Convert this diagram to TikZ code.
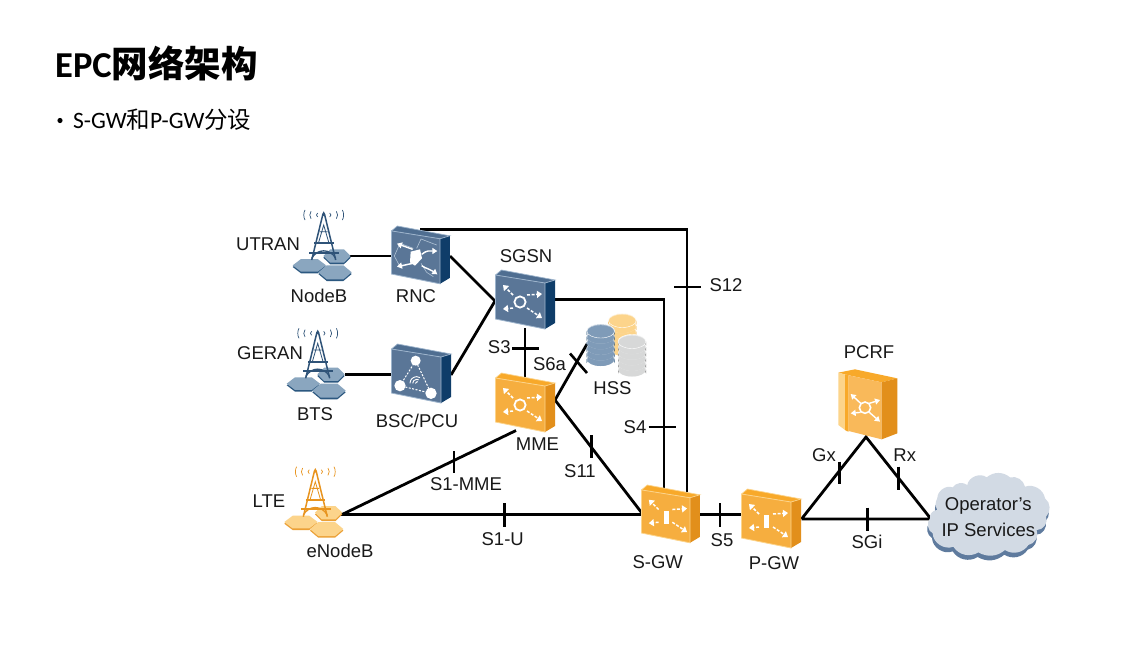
\documentclass[tikz,border=0pt]{standalone}
\usepackage{fontspec}
\setmainfont{Liberation Sans}
\newfontfamily\cjkf{Noto Sans CJK SC}
\newfontfamily\carl{Carlito}
\usetikzlibrary{arrows.meta}
\definecolor{bluF}{HTML}{5A7697}\definecolor{bluT}{HTML}{4F6E91}\definecolor{bluR}{HTML}{0F3D69}\definecolor{bluE}{HTML}{9DB4CC}
\definecolor{oraF}{HTML}{F6AE3F}\definecolor{oraT}{HTML}{F8A92A}\definecolor{oraR}{HTML}{E28F1B}\definecolor{oraE}{HTML}{FCD48B}
\definecolor{hxbF}{HTML}{8AA6BF}\definecolor{hxbE}{HTML}{2C5880}\definecolor{hxoF}{HTML}{FCD48B}\definecolor{hxoE}{HTML}{EBA036}
\definecolor{twb}{HTML}{2F5378}\definecolor{two}{HTML}{E8941F}
\definecolor{cloudF}{HTML}{D2DAE4}\definecolor{cloudS}{HTML}{5F7B9E}
\definecolor{pcrfF}{HTML}{F9B95A}
\definecolor{dkoT}{HTML}{FCD48B}\definecolor{dkoD}{HTML}{F0A830}
\definecolor{dkbT}{HTML}{7F9BB8}\definecolor{dkbD}{HTML}{1E4A73}
\definecolor{dkgT}{HTML}{D7D8D8}\definecolor{dkgD}{HTML}{8C8C8C}
\tikzset{
 link/.style={line width=2.8pt,black},
 tickmark/.style={line width=2.6pt,black},
 lab/.style={font=\fontsize{18.5}{20}\selectfont,inner sep=0pt,text=black!90},
 headarrow/.style={white,line width=1.5pt,dash pattern=on 3pt off 1.6pt,-{Triangle[length=5pt,width=7pt]}},
 solidarrow/.style={white,line width=1.4pt,-{Triangle[length=5pt,width=6pt]}},
 holder/.style={inner sep=0pt,minimum width=50pt,minimum height=50pt},
}
% box body: x y size-scale colour-prefix
\newcommand\boxbody[4]{%
 \begin{scope}[shift={(#1,#2)},scale=#3]
  \fill[#4T] (.5,5)--(6.5,0)--(60,10)--(50,13)--cycle;
  \fill[#4R] (50,13)--(60,10)--(60,53)--(50,59)--cycle;
  \fill[#4F,draw=#4E,line width=.8pt] (.5,5)--(50,13)--(50,59)--(.5,49)--cycle;
  \draw[#4E,line width=.7pt] (.5,5)--(6.5,0)--(60,10)--(50,13);
 \end{scope}}
% four-arrow icon
\newcommand\fourarrows[3]{%
 \begin{scope}[shift={(#1,#2)},scale=#3]
  \draw[headarrow] (18,25)--(8,15);
  \draw[headarrow] (32,25)--(47,24);
  \draw[headarrow] (18,38)--(8,39);
  \draw[headarrow] (32,38)--(47,48);
 \end{scope}}
\newcommand\ringicon[3]{%
 \begin{scope}[shift={(#1,#2)}]
  \draw[white,line width=1.8pt,fill=#3F] (25,32) circle[radius=5.6];
 \end{scope}}
\newcommand\baricon[2]{\fill[white] (#1+22.5,#2+25.5) rectangle (#1+27.5,#2+39);}
\newcommand\hexa[6]{%
 \fill[#6,shift={(#1,#2+5)},xscale=#3,yscale=#4] (-1,0)--(-.5,-1)--(.5,-1)--(1,0)--(.5,1)--(-.5,1)--cycle;
 \fill[#5,shift={(#1,#2)},xscale=#3,yscale=#4] (-1,0)--(-.5,-1)--(.5,-1)--(1,0)--(.5,1)--(-.5,1)--cycle;}
% tower: apex x y, hex fill, hex edge, tower colour
\newcommand\towericon[5]{%
 \begin{scope}[shift={(#1,#2)},scale=1/3]
  \hexa{40}{123}{41}{20}{#3}{#4}
  \hexa{-43}{151}{50}{19}{#3}{#4}
  \hexa{34}{172}{50}{21}{#3}{#4}
  \draw[#5,line width=1.5pt] (-36,135)--(-3,0)--(0,-6)--(3,0)--(36,135);
  \draw[#5,line width=.8pt] (-16,85)--(0,30)--(16,85) (-12,50)--(12,50);
  \draw[#5,line width=1.9pt] (-28,85)--(30,85);
  \draw[#5,line width=2.1pt] (-43,113)--(47,113);
  \draw[#5,line width=1.3pt] (-36,130) .. controls (-20,100) and (20,100) .. (36,130);
  \fill[#5] (0,-2) circle[radius=5];
  \foreach \sx in {-1,1}{
   \foreach \r/\h in {18/6,38/11,56/15}{
    \draw[#5,line width=.7pt] (\sx*\r,-\h) .. controls (\sx*\r+\sx*5,-\h/2) and (\sx*\r+\sx*5,\h/2) .. (\sx*\r,\h);}}
 \end{scope}}
% disk stack: centre x, top y, top colour, dark colour
\newcommand\diskstack[4]{%
 \foreach \k in {5,4,3,2,1,0}{
  \fill[#4] (#1-14,#2+7+\k*5.6) -- (#1-14,#2+11+\k*5.6) arc[start angle=180,end angle=360,x radius=14,y radius=6] -- (#1+14,#2+7+\k*5.6) -- cycle;
  \fill[#3!55!white] (#1,#2+7+\k*5.6) ellipse[x radius=14,y radius=7];
  \fill[#3] (#1,#2+7.6+\k*5.6) ellipse[x radius=13.4,y radius=6.4];}
 \draw[white,line width=.4pt] (#1,#2+7) ellipse[x radius=14,y radius=7];}
\begin{document}
\begin{tikzpicture}[x=1pt,y=-1pt]
\useasboundingbox (0,0) rectangle (1147,667);
\fill[white] (0,0) rectangle (1147,667);
% title
\node[anchor=west,inner sep=0pt,font=\fontsize{36.5}{40}\selectfont\bfseries] (title) at (55,63) {{\carl EPC}{\cjkf 网络架构}};
\fill[black] (60,120.5) circle[radius=2.6];
\node[anchor=west,inner sep=0pt,font=\fontsize{23.5}{26}\selectfont] (sub) at (73,120) {{\carl S-GW}{\cjkf 和}{\carl P-GW}{\cjkf 分设}};

% endpoints
\coordinate (nodebE) at (348,256);
\coordinate (rncW) at (392,256);
\coordinate (rncE) at (450,256);
\coordinate (rncT) at (420,229.5);
\coordinate (btsE) at (345,374.5);
\coordinate (bscW) at (392,374.5);
\coordinate (bscE) at (451,375);
\coordinate (sgsnW) at (495,301);
\coordinate (sgsnE) at (554,299.5);
\coordinate (sgsnS) at (525,328);
\coordinate (mmeN) at (525,379);
\coordinate (mmeE) at (555,400);
\coordinate (mmeS) at (516,430.5);
\coordinate (hssW) at (587,344);
\coordinate (enbE) at (342,514.5);
\coordinate (sgwW) at (643,514.5);
\coordinate (sgwE) at (699,514.5);
\coordinate (pgwW) at (743,514.5);
\coordinate (sgwA) at (664,491);
\coordinate (sgwB) at (687,493);
\coordinate (cr1) at (687,229.5);
\coordinate (cr2) at (664,299.5);
\coordinate (pgwE) at (801.5,519);
\coordinate (pcrfS) at (866,437);
\coordinate (cloudW) at (931,519);

% connectors
\draw[link] (nodebE)--(rncW);
\draw[link] (btsE)--(bscW);
\draw[link] (rncE)--(sgsnW)--(bscE);
\draw[link] (rncT)--(cr1)--(sgwB);
\draw[link] (sgsnE)--(cr2)--(sgwA);
\draw[link] (sgsnS)--(mmeN);
\draw[link] (hssW)--(mmeE)--(sgwW);
\draw[link] (mmeS)--(enbE)--(sgwW);
\draw[link] (sgwE)--(pgwW);
\draw[link] (pgwE)--(pcrfS)--(cloudW)--(pgwE);

% interface ticks
\foreach \n/\a/\b/\c/\d in {s3/512/348.5/539/348.5, s6a/570/353.5/587/373, s11/591.7/435/591.7/457.5,
  s4/648.5/427/676/427, s12/674/287/701/287, s1m/454/451/454/473, s1u/504.5/503/504.5/526.5,
  s5/720/503/720/526.5, sgi/867.3/507.5/867.3/531, gx/839.7/461.5/839.7/484, rx/898.3/466.5/898.3/490}{
  \coordinate (\n a) at (\a,\b);
  \coordinate (\n b) at (\c,\d);
  \draw[tickmark] (\n a)--(\n b);
}

% devices
\boxbody{391}{226}{.98}{blu}
\boxbody{391}{344}{1}{blu}
\boxbody{495}{270}{1}{blu}
\boxbody{495}{373}{1}{ora}
\boxbody{641}{485}{.98}{ora}
\boxbody{741}{489}{1}{ora}
\node[holder] (rnc) at (416,258) {};
\node[holder] (bsc) at (416,376) {};
\node[holder] (sgsn) at (520,302) {};
\node[holder] (mme) at (520,405) {};
\node[holder] (sgw) at (666,517) {};
\node[holder] (pgw) at (766,521) {};
\fourarrows{495}{270}{1}
\ringicon{495}{270}{blu}
\fourarrows{495}{373}{1}
\ringicon{495}{373}{ora}
\fourarrows{641}{485}{.98}
\baricon{641}{485}
\fourarrows{741}{489}{1}
\baricon{741}{489}
% RNC icon
\begin{scope}[shift={(220,195)},scale=1/3]
 \draw[line width=.6pt,bluE!80!white] (580,160)--(540,145)--(523,183)--(540,215)--(580,205);
 \draw[line width=.6pt,bluE!80!white] (590,160)--(603,132)--(650,150) (603,205)--(620,232)--(640,245);
 \draw[solidarrow] (578,163)--(531,146);
 \draw[solidarrow] (605,178) .. controls (620,165) and (630,168) .. (652,168);
 \draw[solidarrow] (578,205)--(531,215);
 \draw[solidarrow] (605,212) .. controls (620,222) and (630,222) .. (652,238);
 \fill[white] (572,170)--(600,163)--(606,190)--(585,212)--(570,202)--cycle;
\end{scope}
% BSC icon
\begin{scope}[shift={(220,195)},scale=1/3]
 \draw[white,line width=1pt,dash pattern=on 2pt off 1.5pt] (587,497)--(540,572)--(633,595)--cycle;
 \fill[white] (587,497) circle[radius=15];
 \fill[white] (540,572) circle[radius=17];
 \fill[white] (633,595) circle[radius=17];
 \draw[white,line width=.9pt] (570,565) arc[start angle=180,end angle=300,radius=20];
 \draw[white,line width=.9pt] (578,565) arc[start angle=180,end angle=300,radius=12];
 \draw[white,line width=.9pt] (586,565) arc[start angle=180,end angle=300,radius=5];
\end{scope}
% PCRF
\begin{scope}[shift={(730,350)},scale=1/3]
 \fill[oraT] (325,68)--(375,58)--(502,85)--(455,97)--(352,75)--cycle;
 \fill[hxoF] (325,68)--(352,75)--(352,245)--(325,225)--cycle;
 \fill[oraT] (345,73)--(356,75)--(356,245)--(345,240)--cycle;
 \fill[pcrfF] (356,76)--(455,97)--(455,268)--(356,243)--cycle;
 \fill[oraR] (455,97)--(502,85)--(502,250)--(455,268)--cycle;
 \draw[white,line width=1.6pt] (405,173) circle[radius=17];
 \draw[solidarrow] (392,160)--(362,132);
 \draw[solidarrow] (418,160)--(450,150);
 \draw[solidarrow] (392,187)--(362,190);
 \draw[solidarrow] (418,187)--(450,215);
\end{scope}
\node[inner sep=0pt,minimum width=60pt,minimum height=60pt] (pcrf) at (869,405) {};
% towers
\towericon{323.7}{215}{hxbF}{hxbE}{twb}
\towericon{317.7}{333.3}{hxbF}{hxbE}{twb}
\towericon{315.3}{471.7}{hxoF}{hxoE}{two}
\node[inner sep=0pt,minimum size=40pt] (nodeb) at (320,250) {};
\node[inner sep=0pt,minimum size=40pt] (bts) at (315,368) {};
\node[inner sep=0pt,minimum size=40pt] (enb) at (314,507) {};
% HSS
\diskstack{622.3}{313.5}{dkoT}{dkoD}
\diskstack{600.7}{324}{dkbT}{dkbD}
\diskstack{632}{334.5}{dkgT}{dkgD}
\node[inner sep=0pt,minimum size=40pt] (hss) at (615,345) {};
% cloud
\begin{scope}[shift={(730,350)},scale=1/3]
 \path[fill=cloudS,shift={(-2,14)}] (622,445) to[bend left=55] (668,412) to[bend left=45] (712,405) to[bend left=60] (770,382) to[bend left=40] (840,382) to[bend left=45] (885,410) to[bend left=50] (945,445) to[bend left=50] (948,500) to[bend left=60] (920,540) to[bend left=50] (895,585) to[bend left=45] (825,600) to[bend left=35] (745,607) to[bend left=45] (670,590) to[bend left=55] (608,550) to[bend left=50] (600,505) to[bend left=50] (622,480) to[bend left=30] cycle;
 \path[fill=cloudF] (622,445) to[bend left=55] (668,412) to[bend left=45] (712,405) to[bend left=60] (770,382) to[bend left=40] (840,382) to[bend left=45] (885,410) to[bend left=50] (945,445) to[bend left=50] (948,500) to[bend left=60] (920,540) to[bend left=50] (895,585) to[bend left=45] (825,600) to[bend left=35] (745,607) to[bend left=45] (670,590) to[bend left=55] (608,550) to[bend left=50] (600,505) to[bend left=50] (622,480) to[bend left=30] cycle;
\end{scope}

% labels
\foreach \n/\x/\y/\t in {lu/268/244/UTRAN, lnb/319/296/NodeB, lrnc/416/296/RNC, lsgsn/526/256/SGSN,
  ls3/499.3/347.5/S3, lger/270/353/GERAN, lbts/315/414/BTS, lbsc/417/421/BSC\slash PCU,
  ls6a/549.5/364.5/S6a, lhss/612.5/388.5/HSS, lmme/537.5/444.5/MME, ls4/635/427/S4, ls11/580/471.5/S11,
  ls1u/502.7/539.5/S1-U, ls1m/466/484/S1-MME, lsgw/657.7/561.7/S-GW, ls12/726/285/S12, ls5/722/540/S5,
  lpgw/774/563.5/P-GW, lsgi/867/541.7/SGi, lgx/824/455/Gx, lrx/904.7/455/Rx, lpcrf/869/352/PCRF,
  llte/269/501/LTE, lenb/340/551/eNodeB, lop/988.3/506/Operator's, lip/988.3/530/IP Services}{
  \node[lab] (\n) at (\x,\y) {\t};
}
\end{tikzpicture}
\end{document}
